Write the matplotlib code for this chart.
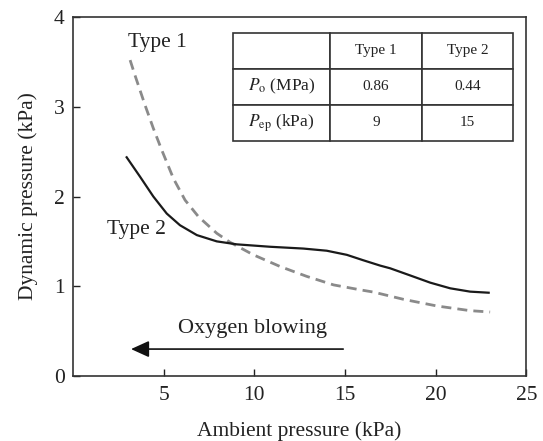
import numpy as np
import matplotlib
matplotlib.use("Agg")
import matplotlib.pyplot as plt

# values
type1_x = [3.15, 3.42, 3.97, 4.43, 4.89, 5.54, 6.18, 6.92, 7.93, 8.66, 9.95,
           11.42, 12.89, 14.37, 15.84, 16.57, 18.23, 20.07, 21.9, 23.0]
type1_y = [3.52, 3.35, 3.02, 2.76, 2.52, 2.20, 1.96, 1.775, 1.59, 1.49, 1.35,
           1.22, 1.11, 1.015, 0.96, 0.935, 0.854, 0.78, 0.728, 0.713]

type2_x = [2.96, 3.70, 4.43, 5.17, 5.9, 6.83, 7.93, 9.03, 10.87, 12.7, 13.99,
           15.1, 16.0, 16.94, 17.49, 18.6, 19.7, 20.8, 21.9, 22.92]
type2_y = [2.437, 2.22, 2.0, 1.81, 1.68, 1.57, 1.50, 1.467, 1.44, 1.42, 1.396,
           1.35, 1.29, 1.23, 1.20, 1.12, 1.04, 0.977, 0.94, 0.928]

table_cols = ["", "Type 1", "Type 2"]
table_rows = [
    [r"$P_\mathrm{o}$ (MPa)", "0.86", "0.44"],
    [r"$P_\mathrm{ep}$ (kPa)", "9", "15"],
]

plt.rcParams["font.family"] = "Liberation Serif"
plt.rcParams["mathtext.fontset"] = "stix"

fig = plt.figure(figsize=(5.43, 4.41), dpi=100)
ax = fig.add_axes([0.1344, 0.1474, 0.835, 0.814])

ax.plot(type1_x, type1_y, color="#8a8a8a", lw=2.0, ls=(0, (3.6, 2.2)),
        solid_joinstyle="round")
ax.plot(type2_x, type2_y, color="#1a1a1a", lw=1.6, solid_joinstyle="round")

ax.set_xlim(0, 25)
ax.set_ylim(0, 4)
ax.set_xticks([5, 10, 15, 20, 25])
ax.set_yticks([0, 1, 2, 3, 4])
ax.tick_params(direction="in", length=5, width=1, labelsize=15.5, colors="#222222")
ax.tick_params(axis="x", pad=7)
ax.tick_params(axis="y", pad=6)
for s in ax.spines.values():
    s.set_linewidth(1.2)
    s.set_color("#333333")

ax.set_xlabel("Ambient pressure (kPa)", fontsize=15.5, color="#222222", labelpad=12)
ax.set_ylabel("Dynamic pressure (kPa)", fontsize=15.5, color="#222222", labelpad=11)

ax.text(3.05, 3.72, "Type 1", fontsize=15.5, ha="left", va="center", color="#222222")
ax.text(1.9, 1.63, "Type 2", fontsize=15.5, ha="left", va="center", color="#222222")
ax.text(9.9, 0.53, "Oxygen blowing", fontsize=16, ha="center", va="center", color="#222222")
ax.annotate("", xy=(3.2, 0.30), xytext=(14.9, 0.30),
            arrowprops=dict(arrowstyle="-|>,head_length=0.55,head_width=0.25",
                            mutation_scale=20, color="#111111", lw=1.2,
                            shrinkA=0, shrinkB=0))

tbl = ax.table(cellText=table_rows, colLabels=table_cols, cellLoc="center",
               colWidths=[0.347, 0.327, 0.326],
               bbox=[0.3525, 0.655, 0.619, 0.301])
tbl.auto_set_font_size(False)
tbl.set_fontsize(11)
for (r, c), cell in tbl.get_celld().items():
    cell.set_linewidth(1.2)
    cell.set_edgecolor("#333333")
    cell.get_text().set_color("#222222")
    if c == 0 and r > 0:
        cell.get_text().set_fontsize(12.5)

fig.savefig("out.png", dpi=100)
